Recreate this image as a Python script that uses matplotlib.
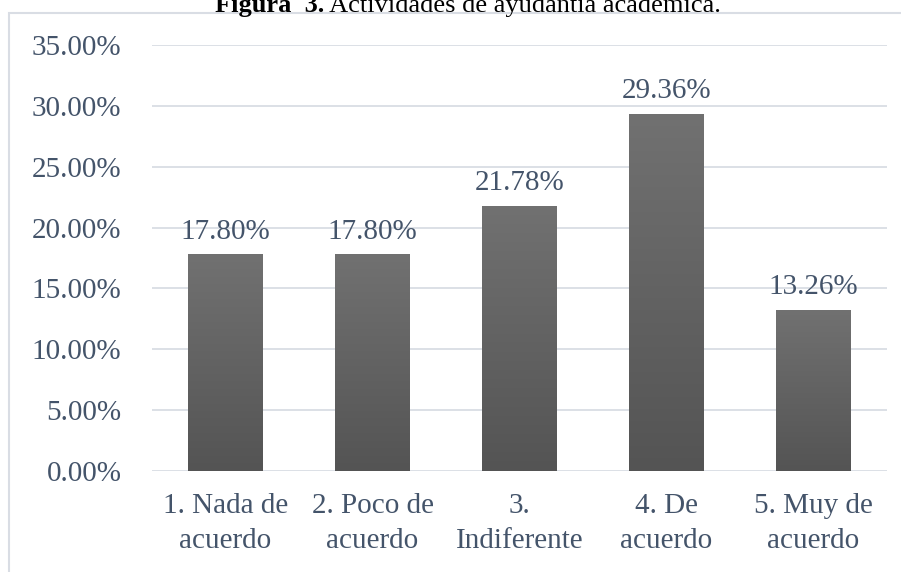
import numpy as np
import matplotlib.pyplot as plt
from matplotlib.patches import Rectangle
from matplotlib.colors import LinearSegmentedColormap

categorias = ["1. Nada de\nacuerdo", "2. Poco de\nacuerdo", "3.\nIndiferente", "4. De\nacuerdo", "5. Muy de\nacuerdo"]
valores = [17.80, 17.80, 21.78, 29.36, 13.26]
ticks_y = [0, 5, 10, 15, 20, 25, 30, 35]

plt.rcParams['font.family'] = ['Liberation Serif', 'DejaVu Serif']
texto = '#44546a'
fs = 21

fig = plt.figure(figsize=(9.01, 5.72), dpi=100)
ax = fig.add_axes([152 / 901, 1 - 471 / 572, 735 / 901, 426 / 572])

x = np.arange(len(valores))
barras = ax.bar(x, valores, width=0.51, color='#626262', zorder=2)

# degradado en cada barra
grad = np.linspace(0, 1, 256).reshape(-1, 1)
cmap = LinearSegmentedColormap.from_list('g', ['#545454', '#717171'])
for b in barras:
    x0, w, h = b.get_x(), b.get_width(), b.get_height()
    im = ax.imshow(grad, extent=[x0, x0 + w, 0, h], origin='lower', cmap=cmap,
                   aspect='auto', zorder=3)
    im.set_clip_path(b)

for xi, v in zip(x, valores):
    ax.text(xi, v + 0.8, f"{v:.2f}%", ha='center', va='bottom', fontsize=fs, color=texto)

ax.set_xlim(-0.5, len(valores) - 0.5)
ax.set_ylim(0, 35)
ax.set_yticks(ticks_y)
ax.set_yticklabels([f"{t:.2f}%" for t in ticks_y])
ax.set_xticks(x)
ax.set_xticklabels(categorias, linespacing=1.42)
ax.tick_params(axis='y', length=0, pad=22, labelsize=fs, labelcolor=texto)
ax.tick_params(axis='x', length=0, pad=16, labelsize=fs, labelcolor=texto)
ax.grid(axis='y', color='#d9dde4', linewidth=1.3, zorder=0)
for s in ax.spines.values():
    s.set_visible(False)

# marco del gráfico
fig.patches.append(Rectangle((9 / 901, -0.1), 1.0, 1 - 13 / 572 + 0.1, transform=fig.transFigure,
                             fill=False, edgecolor='#d9dde4', linewidth=1.5))

# título (cortado arriba como en el original)
yb = 1 - 12 / 572
t1 = fig.text(215 / 901, yb, "Figura  3.", ha='left', va='baseline', fontsize=19,
              fontweight='bold', color='black')
fig.canvas.draw()
bb = t1.get_window_extent().transformed(fig.transFigure.inverted())
fig.text(bb.x1, yb, " Actividades de ayudantía académica.", ha='left', va='baseline',
         fontsize=19, color='black')

fig.savefig('out.png', dpi=100)
